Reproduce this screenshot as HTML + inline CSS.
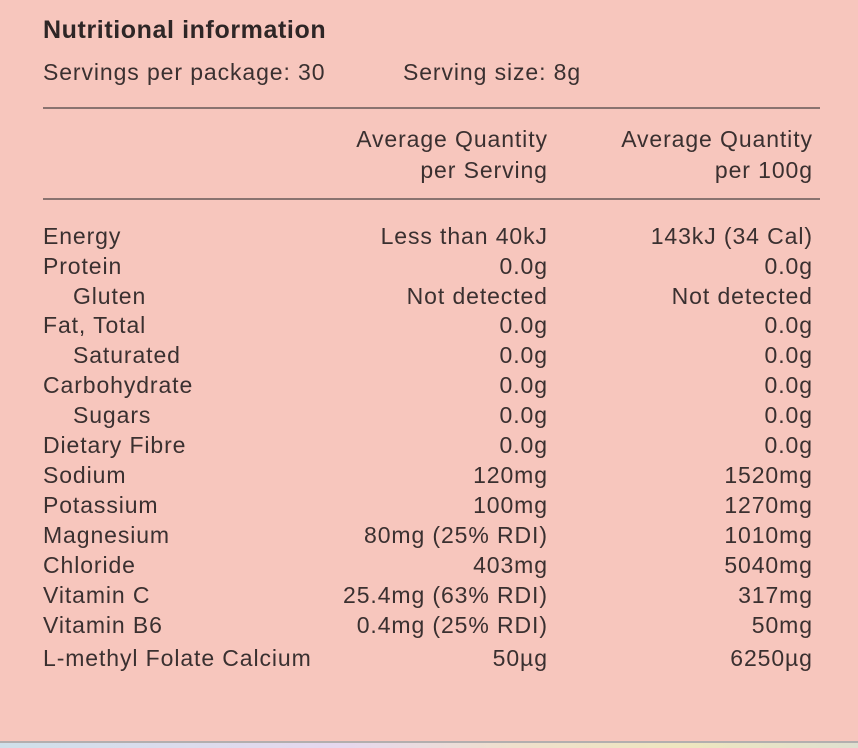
<!DOCTYPE html>
<html><head><style>
body{margin:0;width:858px;height:748px;overflow:hidden;background:#f7c6bd;font-family:"Liberation Sans",sans-serif;color:#3a3030;position:relative}
.t{position:absolute;white-space:nowrap;font-size:23px;letter-spacing:0.9px;line-height:30px;transform:translateY(-15px)}
.r{text-align:right;margin-right:-0.9px}
.hr{position:absolute;left:43px;width:777px;height:2px;background:#8a7370}
</style></head><body>
<div class="t" style="left:43px;top:30px;font-weight:bold;color:#2e2626;font-size:25px;letter-spacing:0.6px">Nutritional information</div>
<div class="t" style="left:43px;top:72px">Servings per package: 30</div>
<div class="t" style="left:403px;top:72px">Serving size: 8g</div>
<div class="hr" style="top:107px"></div>
<div class="t r" style="right:311px;top:139px">Average Quantity</div>
<div class="t r" style="right:311px;top:170px">per Serving</div>
<div class="t r" style="right:46px;top:139px">Average Quantity</div>
<div class="t r" style="right:46px;top:170px">per 100g</div>
<div class="hr" style="top:198px"></div>
<div id="rows"></div>
<script>
var d=[["Energy","Less than 40kJ","143kJ (34 Cal)",236],["Protein","0.0g","0.0g",266],["  Gluten","Not detected","Not detected",296],["Fat, Total","0.0g","0.0g",325],["  Saturated","0.0g","0.0g",355],["Carbohydrate","0.0g","0.0g",385],["  Sugars","0.0g","0.0g",415],["Dietary Fibre","0.0g","0.0g",445],["Sodium","120mg","1520mg",475],["Potassium","100mg","1270mg",505],["Magnesium","80mg (25% RDI)","1010mg",535],["Chloride","403mg","5040mg",565],["Vitamin C","25.4mg (63% RDI)","317mg",595],["Vitamin B6","0.4mg (25% RDI)","50mg",625],["L-methyl Folate Calcium","50µg","6250µg",658]];
var h="";d.forEach(function(r){var ind=r[0].indexOf("  ")==0;
h+='<div class="t" style="left:'+(ind?73:43)+'px;top:'+r[3]+'px">'+r[0].trim()+'</div>';
h+='<div class="t r" style="right:311px;top:'+r[3]+'px">'+r[1]+'</div>';
h+='<div class="t r" style="right:46px;top:'+r[3]+'px">'+r[2]+'</div>';});
document.getElementById("rows").innerHTML=h;
</script>
<div style="position:absolute;left:0;top:741px;width:858px;height:2px;background:#b3aeae"></div>
<div style="position:absolute;left:0;top:743px;width:858px;height:5px;background:linear-gradient(90deg,#cfe0ea,#e6d8ee 40%,#efe0cc 60%,#eee6bf 80%,#dfe0d0)"></div>
</body></html>
